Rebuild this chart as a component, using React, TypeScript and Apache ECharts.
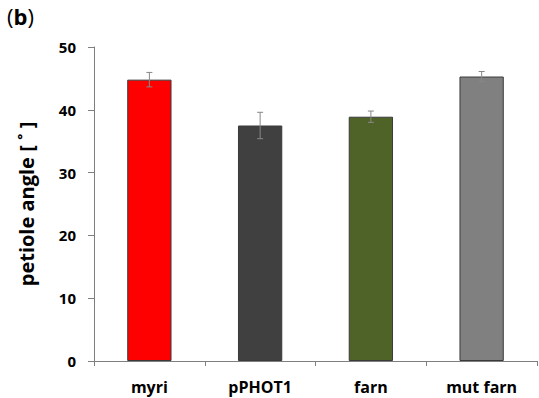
import React, { useEffect, useRef } from "react";
import * as echarts from "echarts";

const categories = ["myri", "pPHOT1", "farn", "mut farn"];
const values = [44.8, 37.5, 38.9, 45.3];
const errors = [1.15, 2.1, 0.9, 0.8];
const colors = ["#FF0000", "#404040", "#4F6228", "#808080"];
const yTicks = { min: 0, max: 50, interval: 10 };

const FONT = "'Open Sans', 'Noto Sans', sans-serif";

export default function App() {
  const ref = useRef<HTMLDivElement>(null);
  useEffect(() => {
    if (!ref.current) return;
    const chart = echarts.init(ref.current, null, { renderer: "svg" });
    chart.setOption({
      animation: false,
      backgroundColor: "#ffffff",
      grid: { left: 94, right: 2, top: 47, bottom: 37, containLabel: false },
      graphic: [
        {
          type: "text",
          left: 7,
          top: 5,
          style: {
            rich: {
              p: { fontFamily: FONT, fontSize: 22, fill: "#000" },
              b: { fontFamily: FONT, fontSize: 22, fontWeight: "bold", fill: "#000" },
            },
            text: "{p|(}{b|b}{p|)}",
          },
        },
      ],
      xAxis: {
        type: "category",
        data: categories,
        boundaryGap: true,
        axisLine: { lineStyle: { color: "#7f7f7f", width: 1 } },
        axisTick: { show: true, length: 5, alignWithLabel: false, lineStyle: { color: "#7f7f7f" } },
        axisLabel: {
          margin: 18,
          fontFamily: FONT,
          fontSize: 16,
          fontWeight: "bold",
          color: "#000",
        },
      },
      yAxis: {
        type: "value",
        min: yTicks.min,
        max: yTicks.max,
        interval: yTicks.interval,
        name: "petiole angle [ ˚ ]",
        nameLocation: "middle",
        nameGap: 58,
        nameTextStyle: { fontFamily: FONT, fontSize: 20, fontWeight: "bold", color: "#000" },
        splitLine: { show: false },
        axisLine: { show: true, lineStyle: { color: "#7f7f7f", width: 1 } },
        axisTick: { show: true, length: 6, inside: false, lineStyle: { color: "#7f7f7f" } },
        axisLabel: {
          margin: 18,
          fontFamily: FONT,
          fontSize: 15,
          fontWeight: "bold",
          color: "#000",
        },
      },
      series: [
        {
          type: "bar",
          barWidth: "40%",
          data: values.map((v, i) => ({
            value: v,
            itemStyle: { color: colors[i], borderColor: "#3a3a3a", borderWidth: 1 },
          })),
        },
        {
          type: "custom",
          data: values.map((v, i) => [i, v - errors[i], v + errors[i]]),
          renderItem: (params: any, api: any) => {
            const x = api.value(0);
            const lo = api.coord([x, api.value(1)]);
            const hi = api.coord([x, api.value(2)]);
            const cap = 3;
            const style = { stroke: "#888888", lineWidth: 1 };
            return {
              type: "group",
              children: [
                { type: "line", shape: { x1: hi[0], y1: hi[1], x2: lo[0], y2: lo[1] }, style },
                { type: "line", shape: { x1: hi[0] - cap, y1: hi[1], x2: hi[0] + cap, y2: hi[1] }, style },
                { type: "line", shape: { x1: lo[0] - cap, y1: lo[1], x2: lo[0] + cap, y2: lo[1] }, style },
              ],
            };
          },
          z: 10,
        },
      ],
    });
    return () => chart.dispose();
  }, []);
  return (
    <div
      ref={ref}
      style={{ position: "fixed", left: 0, top: 0, width: 539, height: 398 }}
    />
  );
}
